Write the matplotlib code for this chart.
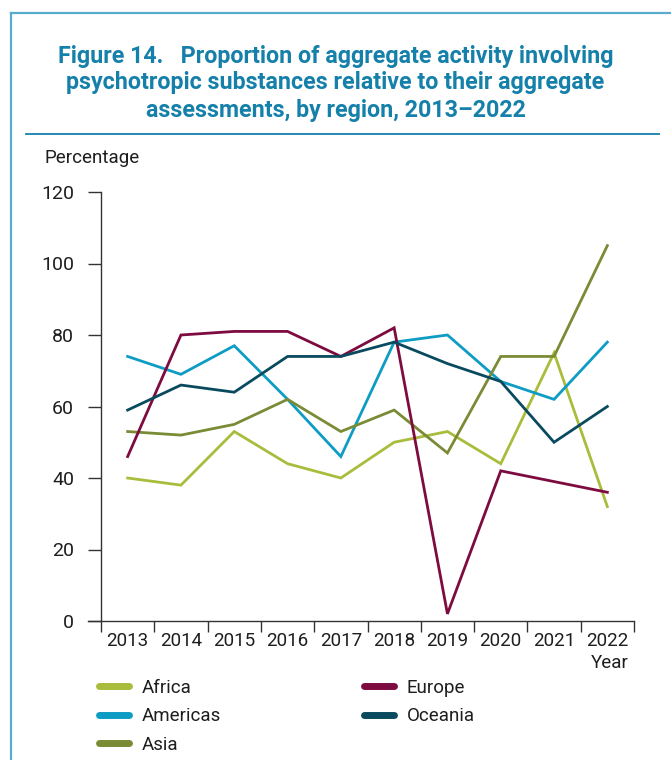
import matplotlib
matplotlib.use("Agg")
import matplotlib.pyplot as plt
import numpy as np
from matplotlib.lines import Line2D

plt.rcParams['font.family'] = ['Roboto', 'DejaVu Sans']

years = ['2013', '2014', '2015', '2016', '2017', '2018', '2019', '2020', '2021', '2022']
africa = [40, 38, 53, 44, 40, 50, 53, 44, 75, 32]
americas = [74, 69, 77, 62, 46, 78, 80, 67, 62, 78]
asia = [53, 52, 55, 62, 53, 59, 47, 74, 74, 105]
europe = [46, 80, 81, 81, 74, 82, 2, 42, 39, 36]
oceania = [59, 66, 64, 74, 74, 78, 72, 67, 50, 60]

regions = ['Africa', 'Americas', 'Asia', 'Europe', 'Oceania']
series = [africa, americas, asia, europe, oceania]
colors = ['#a9bc3c', '#0d9dc4', '#7a8b35', '#7d0b40', '#0a4a5e']

title_lines = ['Figure 14.   Proportion of aggregate activity involving',
               'psychotropic substances relative to their aggregate',
               'assessments, by region, 2013\u20132022']

title_color = '#1580aa'
frame_color = '#58adcc'
text_color = '#1e1e1e'

fig = plt.figure(figsize=(6.71, 7.6), dpi=100)
renderer = fig.canvas.get_renderer()

# frame lines and title rule
fig.add_artist(Line2D([11/671, 11/671], [0, 1 - 13/760], color=frame_color, lw=1.6))
fig.add_artist(Line2D([11/671, 1], [1 - 13/760, 1 - 13/760], color=frame_color, lw=1.6))
fig.add_artist(Line2D([26/671, 659/671], [1 - 134/760, 1 - 134/760], color=title_color, lw=1.3))

# title: three lines, first one sized to the reference width (~560 px)
for i, (line, yc) in enumerate(zip(title_lines, [56, 83, 110])):
    t = fig.text(0.5, 1 - yc/760, line, ha='center', va='center', fontsize=15,
                 fontweight='bold', color=title_color)
    if i == 0:
        w = t.get_window_extent(renderer).width
        tsize = 15 * 560 / w
    t.set_fontsize(tsize)

ax = fig.add_axes([101/671, 1 - 621/760, 533/671, 429/760])
x = np.arange(len(years))
for name, vals, c in zip(regions, series, colors):
    ax.plot(x, vals, color=c, lw=2.0, label=name, solid_joinstyle='miter')

ax.set_xlim(-0.5, len(years) - 0.5)
ax.set_ylim(0, 120)
ax.set_yticks(np.arange(0, 121, 20))
ax.set_xticks(np.arange(-0.5, len(years)), minor=False)
ax.set_xticklabels([])
ax.set_xticks(x, minor=True)
ax.set_xticklabels(years, minor=True)
ax.tick_params(axis='x', which='major', length=8, width=1, color='#333333', direction='out')
ax.tick_params(axis='x', which='minor', length=0, labelsize=13.5, colors=text_color, pad=8)
ax.tick_params(axis='y', length=9.4, width=1, color='#333333', labelsize=14,
               labelcolor=text_color, pad=10)
for s in ['top', 'right']:
    ax.spines[s].set_visible(False)
for s in ['left', 'bottom']:
    ax.spines[s].set_color('#333333')
    ax.spines[s].set_linewidth(1)
ax.spines['bottom'].set_bounds(-0.5 - 13/53.3, len(years) - 0.5)

fig.text(44/671, 1 - 158/760, 'Percentage', ha='left', va='center', fontsize=13.5, color=text_color)
fig.text(629/671, 1 - 663/760, 'Year', ha='right', va='center', fontsize=13.5, color=text_color)

handles, labels = ax.get_legend_handles_labels()
leg = fig.legend(handles, labels, ncol=2, loc='upper left',
                 bbox_to_anchor=(82/671, 1 - 662/760), frameon=False,
                 fontsize=13.5, handlelength=1.6, handletextpad=0.7,
                 columnspacing=7.6, labelspacing=0.55, labelcolor=text_color)
for h in leg.legend_handles:
    h.set_linewidth(5)
    h.set_solid_capstyle('round')

fig.savefig('out.png', dpi=100)
